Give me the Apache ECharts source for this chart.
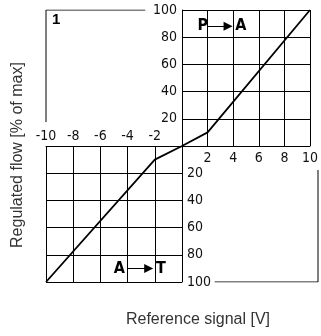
<!DOCTYPE html>
<html>
<head>
<meta charset="utf-8">
<script src="https://cdn.jsdelivr.net/npm/echarts@6/dist/echarts.min.js"></script>
<style>
  html, body { margin: 0; padding: 0; background: #fff; }
  #chart { width: 321px; height: 336px; }
</style>
</head>
<body>
<div id="chart"></div>
<script>
// Flow characteristic of the proportional valve
const voltsPA = [0, 2, 10];     // reference signal, P -> A side [V]
const flowPA = [0, 10, 100];    // regulated flow, P -> A [% of max]
const voltsAT = [-10, -2, 0];   // reference signal, A -> T side [V]
const flowAT = [100, 10, 0];    // regulated flow, A -> T [% of max]

const posVoltTicks = [2, 4, 6, 8, 10];
const negVoltTicks = [-10, -8, -6, -4, -2];
const flowTicks = [20, 40, 60, 80, 100];

// partial frame lines of the empty quadrants
const frameUL = [[-10, 17.6], [-10, 100], [-2.7, 100]];
const frameLR = [[2.4, 100], [10, 100], [10, 17.6]];

const INK = '#000';
const tickFont = {
  fontFamily: "'Liberation Sans Narrow', 'DejaVu Sans Condensed', 'Liberation Sans', sans-serif",
  fontSize: 14,
  color: '#111'
};
const tagFont = {
  fontFamily: "'Liberation Sans Narrow', 'DejaVu Sans Condensed', 'Liberation Sans', sans-serif",
  fontSize: 16,
  fontWeight: 'bold',
  color: '#000'
};

// only the listed ticks get a label; flow is printed as a magnitude on both halves
const pick = (list, magnitude) => (v) => {
  const r = Math.round(v);
  if (list.indexOf(r) < 0) return '';
  return magnitude ? String(Math.abs(r)) : String(r);
};

const split = { show: true, lineStyle: { color: INK, width: 1 } };
const axisLn = { show: true, lineStyle: { color: INK, width: 1 } };

const chart = echarts.init(document.getElementById('chart'), null, { renderer: 'canvas' });

const arrowLine = (from, to) => ({
  silent: true,
  symbol: ['none', 'triangle'],
  symbolSize: 9,
  itemStyle: { color: INK },
  lineStyle: { color: INK, width: 1, type: 'solid' },
  label: { show: false },
  data: [[{ coord: from }, { coord: to }]]
});

const tags = (items) => ({
  silent: true, symbol: 'circle', symbolSize: 0,
  label: Object.assign({ show: true, position: 'inside', formatter: '{b}' }, tagFont),
  data: items
});

const option = {
  animation: false,
  backgroundColor: '#fff',
  grid: [
    { left: 182, top: 10, width: 136, height: 136 }, // P -> A quadrant
    { left: 46, top: 10, width: 136, height: 136 },  // upper-left
    { left: 46, top: 146, width: 136, height: 136 }, // A -> T quadrant
    { left: 182, top: 146, width: 136, height: 136 } // lower-right
  ],
  xAxis: [
    {
      gridIndex: 0, type: 'value', min: 0, max: 10, interval: 2, position: 'bottom',
      axisLine: axisLn, axisTick: { show: false }, splitLine: split,
      axisLabel: Object.assign({ margin: 5, formatter: pick(posVoltTicks, false) }, tickFont)
    },
    { gridIndex: 1, type: 'value', min: -10, max: 0, interval: 2, show: false },
    {
      gridIndex: 2, type: 'value', min: -10, max: 0, interval: 2, position: 'top',
      axisLine: axisLn, axisTick: { show: false }, splitLine: split,
      axisLabel: Object.assign({ margin: 3, formatter: pick(negVoltTicks, false) }, tickFont)
    },
    { gridIndex: 3, type: 'value', min: 0, max: 10, interval: 2, show: false }
  ],
  yAxis: [
    {
      gridIndex: 0, type: 'value', min: 0, max: 100, interval: 20, position: 'left',
      axisLine: axisLn, axisTick: { show: false }, splitLine: split,
      axisLabel: Object.assign({ margin: 5, formatter: pick(flowTicks, true) }, tickFont)
    },
    { gridIndex: 1, type: 'value', min: 0, max: 100, interval: 20, show: false },
    {
      gridIndex: 2, type: 'value', min: 0, max: 100, interval: 20, inverse: true, position: 'right',
      axisLine: axisLn, axisTick: { show: false }, splitLine: split,
      axisLabel: Object.assign({ margin: 5, formatter: pick(flowTicks, true) }, tickFont)
    },
    { gridIndex: 3, type: 'value', min: 0, max: 100, interval: 20, inverse: true, show: false }
  ],
  series: [
    {
      name: 'P→A', type: 'line', xAxisIndex: 0, yAxisIndex: 0,
      data: voltsPA.map((v, i) => [v, flowPA[i]]),
      showSymbol: false, silent: true, z: 5,
      lineStyle: { color: INK, width: 1.8 },
      markLine: arrowLine([2, 88], [3.6, 88]),
      markPoint: tags([
        { name: 'P', coord: [1.62, 88] },
        { name: 'A', coord: [4.6, 88] }
      ])
    },
    {
      name: 'A→T', type: 'line', xAxisIndex: 2, yAxisIndex: 2,
      data: voltsAT.map((v, i) => [v, flowAT[i]]),
      showSymbol: false, silent: true, z: 5,
      lineStyle: { color: INK, width: 1.8 },
      markLine: arrowLine([-4, 90], [-2.45, 90]),
      markPoint: tags([
        { name: 'A', coord: [-4.6, 90] },
        { name: 'T', coord: [-1.55, 90] }
      ])
    },
    {
      name: 'frame-ul', type: 'line', xAxisIndex: 1, yAxisIndex: 1,
      data: frameUL, showSymbol: false, silent: true,
      lineStyle: { color: INK, width: 1 },
      markPoint: {
        silent: true, symbol: 'circle', symbolSize: 0,
        label: {
          show: true, position: 'inside', formatter: '{b}',
          fontFamily: "'Liberation Sans', Arial, sans-serif", fontSize: 15, fontWeight: 'bold', color: '#000'
        },
        data: [{ name: '1', coord: [-9.26, 93] }]
      }
    },
    {
      name: 'frame-lr', type: 'line', xAxisIndex: 3, yAxisIndex: 3,
      data: frameLR, showSymbol: false, silent: true,
      lineStyle: { color: INK, width: 1 }
    }
  ],
  graphic: [
    {
      type: 'text', x: 18, y: 155, rotation: Math.PI / 2,
      style: {
        text: 'Regulated flow [% of max]',
        font: "16px 'Liberation Sans', Arial, sans-serif",
        fill: '#333', align: 'center', verticalAlign: 'middle'
      }
    },
    {
      type: 'text', x: 198, y: 320,
      style: {
        text: 'Reference signal [V]',
        font: "16px 'Liberation Sans', Arial, sans-serif",
        fill: '#333', align: 'center', verticalAlign: 'middle'
      }
    }
  ]
};

chart.setOption(option);
</script>
</body>
</html>
